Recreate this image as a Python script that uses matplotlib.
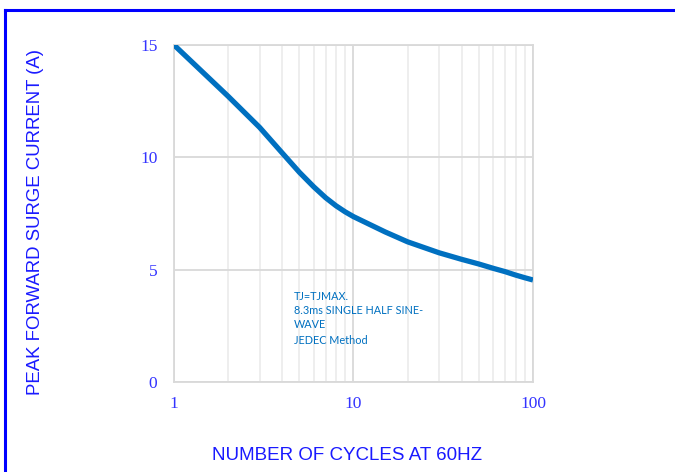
import matplotlib.pyplot as plt
from matplotlib.lines import Line2D
from matplotlib.ticker import FixedLocator, NullFormatter

# surge current curve
cycles = [1, 2, 3, 4, 5, 6, 7, 8, 9, 10, 15, 20, 30, 40, 50, 60, 70, 80, 90, 100]
current = [15.0, 12.72, 11.33, 10.20, 9.33, 8.69, 8.20, 7.84, 7.57, 7.36,
           6.68, 6.24, 5.75, 5.46, 5.25, 5.06, 4.91, 4.76, 4.64, 4.54]

x_ticks = [1, 10, 100]
x_tick_labels = ["1", "10", "100"]
y_ticks = [0, 5, 10, 15]

note_lines = ["TJ=TJMAX.", "8.3ms SINGLE HALF SINE-", "WAVE", "JEDEC Method"]

line_color = "#0070c0"
tick_color = "#3333ff"
label_color = "#1a1aff"

fig = plt.figure(figsize=(6.75, 4.72), dpi=100)
ax = fig.add_axes([0.2578, 0.1907, 0.5318, 0.714])

ax.plot(cycles, current, color=line_color, lw=3.8, solid_capstyle="butt",
        solid_joinstyle="round", zorder=3)

ax.set_xscale("log")
ax.set_xlim(1, 100)
ax.set_ylim(0, 15)

# grid
ax.xaxis.set_major_locator(FixedLocator(x_ticks))
ax.xaxis.set_minor_locator(FixedLocator([m * d for d in (1, 10) for m in range(2, 10)]))
ax.xaxis.set_minor_formatter(NullFormatter())
ax.set_xticklabels(x_tick_labels)
ax.set_yticks(y_ticks)
ax.grid(True, which="major", color="#d9d9d9", lw=1.3)
ax.grid(True, which="minor", axis="x", color="#ededed", lw=1.3)
ax.set_axisbelow(True)
for s in ax.spines.values():
    s.set_color("#d9d9d9")
    s.set_linewidth(1.3)

ax.tick_params(which="both", length=0)
ax.tick_params(axis="x", pad=10)
ax.tick_params(axis="y", pad=12)
for lab in ax.get_xticklabels() + ax.get_yticklabels():
    lab.set_fontfamily("Liberation Serif")
    lab.set_fontsize(12.5)
    lab.set_color(tick_color)

fig.text(0.514, 0.034, "NUMBER OF CYCLES AT 60HZ", ha="center", va="center",
         fontsize=13.5, color=label_color, family="Liberation Sans")
fig.text(0.052, 0.53, "PEAK FORWARD SURGE CURRENT (A)", ha="center", va="center",
         rotation=90, fontsize=13.4, color=label_color, family="Liberation Sans")

# note text
note_y = [297, 311, 324, 341]
for txt, py in zip(note_lines, note_y):
    fig.text(294 / 675, 1 - py / 472, txt, ha="left", va="center",
             fontsize=7.8, color=line_color, family="Lato")

# blue frame lines at top and left
fig.add_artist(Line2D([4.5 / 675, 1], [1 - 10 / 472, 1 - 10 / 472],
                      transform=fig.transFigure, color="#0000ff", lw=2.2))
fig.add_artist(Line2D([5 / 675, 5 / 675], [0, 1 - 10 / 472],
                      transform=fig.transFigure, color="#0000ff", lw=2.2))

fig.savefig("out.png", dpi=100)
